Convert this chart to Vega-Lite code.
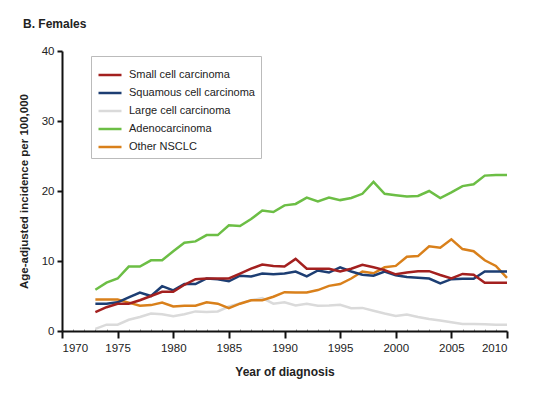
{
  "$schema": "https://vega.github.io/schema/vega-lite/v6.json",
  "width": 445,
  "height": 280,
  "autosize": "none",
  "padding": {"left": 62, "top": 51, "right": 33, "bottom": 62},
  "background": "white",
  "title": {
    "text": "B. Females",
    "anchor": "start",
    "frame": "group",
    "dx": -39,
    "offset": 14,
    "font": "Liberation Sans",
    "fontSize": 12,
    "fontWeight": "bold",
    "color": "#222222"
  },
  "config": {
    "view": {"stroke": null},
    "font": "Liberation Sans"
  },
  "data": {
    "values": [
      {"year":1973,"type":"Large cell carcinoma","value":0.3},
      {"year":1974,"type":"Large cell carcinoma","value":0.9},
      {"year":1975,"type":"Large cell carcinoma","value":0.9},
      {"year":1976,"type":"Large cell carcinoma","value":1.6},
      {"year":1977,"type":"Large cell carcinoma","value":2.0},
      {"year":1978,"type":"Large cell carcinoma","value":2.5},
      {"year":1979,"type":"Large cell carcinoma","value":2.4},
      {"year":1980,"type":"Large cell carcinoma","value":2.1},
      {"year":1981,"type":"Large cell carcinoma","value":2.4},
      {"year":1982,"type":"Large cell carcinoma","value":2.8},
      {"year":1983,"type":"Large cell carcinoma","value":2.7},
      {"year":1984,"type":"Large cell carcinoma","value":2.8},
      {"year":1985,"type":"Large cell carcinoma","value":3.5},
      {"year":1986,"type":"Large cell carcinoma","value":3.95},
      {"year":1987,"type":"Large cell carcinoma","value":4.4},
      {"year":1988,"type":"Large cell carcinoma","value":4.7},
      {"year":1989,"type":"Large cell carcinoma","value":3.9},
      {"year":1990,"type":"Large cell carcinoma","value":4.1},
      {"year":1991,"type":"Large cell carcinoma","value":3.65},
      {"year":1992,"type":"Large cell carcinoma","value":3.9},
      {"year":1993,"type":"Large cell carcinoma","value":3.6},
      {"year":1994,"type":"Large cell carcinoma","value":3.65},
      {"year":1995,"type":"Large cell carcinoma","value":3.75},
      {"year":1996,"type":"Large cell carcinoma","value":3.25},
      {"year":1997,"type":"Large cell carcinoma","value":3.3},
      {"year":1998,"type":"Large cell carcinoma","value":2.9},
      {"year":1999,"type":"Large cell carcinoma","value":2.5},
      {"year":2000,"type":"Large cell carcinoma","value":2.15},
      {"year":2001,"type":"Large cell carcinoma","value":2.35},
      {"year":2002,"type":"Large cell carcinoma","value":2.0},
      {"year":2003,"type":"Large cell carcinoma","value":1.7},
      {"year":2004,"type":"Large cell carcinoma","value":1.5},
      {"year":2005,"type":"Large cell carcinoma","value":1.25},
      {"year":2006,"type":"Large cell carcinoma","value":1.0},
      {"year":2007,"type":"Large cell carcinoma","value":1.0},
      {"year":2008,"type":"Large cell carcinoma","value":0.95},
      {"year":2009,"type":"Large cell carcinoma","value":0.9},
      {"year":2010,"type":"Large cell carcinoma","value":0.9},

      {"year":1973,"type":"Adenocarcinoma","value":5.9},
      {"year":1974,"type":"Adenocarcinoma","value":6.9},
      {"year":1975,"type":"Adenocarcinoma","value":7.5},
      {"year":1976,"type":"Adenocarcinoma","value":9.2},
      {"year":1977,"type":"Adenocarcinoma","value":9.2},
      {"year":1978,"type":"Adenocarcinoma","value":10.1},
      {"year":1979,"type":"Adenocarcinoma","value":10.1},
      {"year":1980,"type":"Adenocarcinoma","value":11.4},
      {"year":1981,"type":"Adenocarcinoma","value":12.6},
      {"year":1982,"type":"Adenocarcinoma","value":12.8},
      {"year":1983,"type":"Adenocarcinoma","value":13.7},
      {"year":1984,"type":"Adenocarcinoma","value":13.7},
      {"year":1985,"type":"Adenocarcinoma","value":15.1},
      {"year":1986,"type":"Adenocarcinoma","value":15.0},
      {"year":1987,"type":"Adenocarcinoma","value":16.0},
      {"year":1988,"type":"Adenocarcinoma","value":17.2},
      {"year":1989,"type":"Adenocarcinoma","value":17.0},
      {"year":1990,"type":"Adenocarcinoma","value":17.95},
      {"year":1991,"type":"Adenocarcinoma","value":18.15},
      {"year":1992,"type":"Adenocarcinoma","value":19.05},
      {"year":1993,"type":"Adenocarcinoma","value":18.5},
      {"year":1994,"type":"Adenocarcinoma","value":19.05},
      {"year":1995,"type":"Adenocarcinoma","value":18.7},
      {"year":1996,"type":"Adenocarcinoma","value":19.0},
      {"year":1997,"type":"Adenocarcinoma","value":19.6},
      {"year":1998,"type":"Adenocarcinoma","value":21.3},
      {"year":1999,"type":"Adenocarcinoma","value":19.6},
      {"year":2000,"type":"Adenocarcinoma","value":19.4},
      {"year":2001,"type":"Adenocarcinoma","value":19.2},
      {"year":2002,"type":"Adenocarcinoma","value":19.3},
      {"year":2003,"type":"Adenocarcinoma","value":20.0},
      {"year":2004,"type":"Adenocarcinoma","value":19.0},
      {"year":2005,"type":"Adenocarcinoma","value":19.8},
      {"year":2006,"type":"Adenocarcinoma","value":20.7},
      {"year":2007,"type":"Adenocarcinoma","value":20.95},
      {"year":2008,"type":"Adenocarcinoma","value":22.2},
      {"year":2009,"type":"Adenocarcinoma","value":22.3},
      {"year":2010,"type":"Adenocarcinoma","value":22.3},

      {"year":1973,"type":"Other NSCLC","value":4.5},
      {"year":1974,"type":"Other NSCLC","value":4.5},
      {"year":1975,"type":"Other NSCLC","value":4.5},
      {"year":1976,"type":"Other NSCLC","value":4.05},
      {"year":1977,"type":"Other NSCLC","value":3.6},
      {"year":1978,"type":"Other NSCLC","value":3.7},
      {"year":1979,"type":"Other NSCLC","value":4.05},
      {"year":1980,"type":"Other NSCLC","value":3.5},
      {"year":1981,"type":"Other NSCLC","value":3.6},
      {"year":1982,"type":"Other NSCLC","value":3.6},
      {"year":1983,"type":"Other NSCLC","value":4.1},
      {"year":1984,"type":"Other NSCLC","value":3.9},
      {"year":1985,"type":"Other NSCLC","value":3.25},
      {"year":1986,"type":"Other NSCLC","value":3.9},
      {"year":1987,"type":"Other NSCLC","value":4.4},
      {"year":1988,"type":"Other NSCLC","value":4.4},
      {"year":1989,"type":"Other NSCLC","value":4.9},
      {"year":1990,"type":"Other NSCLC","value":5.55},
      {"year":1991,"type":"Other NSCLC","value":5.5},
      {"year":1992,"type":"Other NSCLC","value":5.5},
      {"year":1993,"type":"Other NSCLC","value":5.85},
      {"year":1994,"type":"Other NSCLC","value":6.45},
      {"year":1995,"type":"Other NSCLC","value":6.7},
      {"year":1996,"type":"Other NSCLC","value":7.5},
      {"year":1997,"type":"Other NSCLC","value":8.5},
      {"year":1998,"type":"Other NSCLC","value":8.25},
      {"year":1999,"type":"Other NSCLC","value":9.1},
      {"year":2000,"type":"Other NSCLC","value":9.3},
      {"year":2001,"type":"Other NSCLC","value":10.6},
      {"year":2002,"type":"Other NSCLC","value":10.7},
      {"year":2003,"type":"Other NSCLC","value":12.1},
      {"year":2004,"type":"Other NSCLC","value":11.9},
      {"year":2005,"type":"Other NSCLC","value":13.1},
      {"year":2006,"type":"Other NSCLC","value":11.7},
      {"year":2007,"type":"Other NSCLC","value":11.4},
      {"year":2008,"type":"Other NSCLC","value":10.1},
      {"year":2009,"type":"Other NSCLC","value":9.3},
      {"year":2010,"type":"Other NSCLC","value":7.6},

      {"year":1973,"type":"Squamous cell carcinoma","value":3.9},
      {"year":1974,"type":"Squamous cell carcinoma","value":3.9},
      {"year":1975,"type":"Squamous cell carcinoma","value":4.1},
      {"year":1976,"type":"Squamous cell carcinoma","value":4.8},
      {"year":1977,"type":"Squamous cell carcinoma","value":5.5},
      {"year":1978,"type":"Squamous cell carcinoma","value":5.0},
      {"year":1979,"type":"Squamous cell carcinoma","value":6.4},
      {"year":1980,"type":"Squamous cell carcinoma","value":5.8},
      {"year":1981,"type":"Squamous cell carcinoma","value":6.7},
      {"year":1982,"type":"Squamous cell carcinoma","value":6.7},
      {"year":1983,"type":"Squamous cell carcinoma","value":7.5},
      {"year":1984,"type":"Squamous cell carcinoma","value":7.4},
      {"year":1985,"type":"Squamous cell carcinoma","value":7.1},
      {"year":1986,"type":"Squamous cell carcinoma","value":7.9},
      {"year":1987,"type":"Squamous cell carcinoma","value":7.8},
      {"year":1988,"type":"Squamous cell carcinoma","value":8.2},
      {"year":1989,"type":"Squamous cell carcinoma","value":8.1},
      {"year":1990,"type":"Squamous cell carcinoma","value":8.2},
      {"year":1991,"type":"Squamous cell carcinoma","value":8.5},
      {"year":1992,"type":"Squamous cell carcinoma","value":7.8},
      {"year":1993,"type":"Squamous cell carcinoma","value":8.65},
      {"year":1994,"type":"Squamous cell carcinoma","value":8.35},
      {"year":1995,"type":"Squamous cell carcinoma","value":9.1},
      {"year":1996,"type":"Squamous cell carcinoma","value":8.5},
      {"year":1997,"type":"Squamous cell carcinoma","value":8.05},
      {"year":1998,"type":"Squamous cell carcinoma","value":7.9},
      {"year":1999,"type":"Squamous cell carcinoma","value":8.5},
      {"year":2000,"type":"Squamous cell carcinoma","value":7.95},
      {"year":2001,"type":"Squamous cell carcinoma","value":7.7},
      {"year":2002,"type":"Squamous cell carcinoma","value":7.6},
      {"year":2003,"type":"Squamous cell carcinoma","value":7.5},
      {"year":2004,"type":"Squamous cell carcinoma","value":6.8},
      {"year":2005,"type":"Squamous cell carcinoma","value":7.4},
      {"year":2006,"type":"Squamous cell carcinoma","value":7.45},
      {"year":2007,"type":"Squamous cell carcinoma","value":7.45},
      {"year":2008,"type":"Squamous cell carcinoma","value":8.5},
      {"year":2009,"type":"Squamous cell carcinoma","value":8.5},
      {"year":2010,"type":"Squamous cell carcinoma","value":8.5},

      {"year":1973,"type":"Small cell carcinoma","value":2.7},
      {"year":1974,"type":"Small cell carcinoma","value":3.4},
      {"year":1975,"type":"Small cell carcinoma","value":3.9},
      {"year":1976,"type":"Small cell carcinoma","value":3.9},
      {"year":1977,"type":"Small cell carcinoma","value":4.4},
      {"year":1978,"type":"Small cell carcinoma","value":5.0},
      {"year":1979,"type":"Small cell carcinoma","value":5.6},
      {"year":1980,"type":"Small cell carcinoma","value":5.6},
      {"year":1981,"type":"Small cell carcinoma","value":6.6},
      {"year":1982,"type":"Small cell carcinoma","value":7.4},
      {"year":1983,"type":"Small cell carcinoma","value":7.5},
      {"year":1984,"type":"Small cell carcinoma","value":7.5},
      {"year":1985,"type":"Small cell carcinoma","value":7.5},
      {"year":1986,"type":"Small cell carcinoma","value":8.2},
      {"year":1987,"type":"Small cell carcinoma","value":8.9},
      {"year":1988,"type":"Small cell carcinoma","value":9.5},
      {"year":1989,"type":"Small cell carcinoma","value":9.3},
      {"year":1990,"type":"Small cell carcinoma","value":9.2},
      {"year":1991,"type":"Small cell carcinoma","value":10.3},
      {"year":1992,"type":"Small cell carcinoma","value":8.9},
      {"year":1993,"type":"Small cell carcinoma","value":8.9},
      {"year":1994,"type":"Small cell carcinoma","value":8.9},
      {"year":1995,"type":"Small cell carcinoma","value":8.5},
      {"year":1996,"type":"Small cell carcinoma","value":8.9},
      {"year":1997,"type":"Small cell carcinoma","value":9.45},
      {"year":1998,"type":"Small cell carcinoma","value":9.1},
      {"year":1999,"type":"Small cell carcinoma","value":8.7},
      {"year":2000,"type":"Small cell carcinoma","value":8.1},
      {"year":2001,"type":"Small cell carcinoma","value":8.35},
      {"year":2002,"type":"Small cell carcinoma","value":8.55},
      {"year":2003,"type":"Small cell carcinoma","value":8.55},
      {"year":2004,"type":"Small cell carcinoma","value":8.0},
      {"year":2005,"type":"Small cell carcinoma","value":7.5},
      {"year":2006,"type":"Small cell carcinoma","value":8.15},
      {"year":2007,"type":"Small cell carcinoma","value":8.05},
      {"year":2008,"type":"Small cell carcinoma","value":6.9},
      {"year":2009,"type":"Small cell carcinoma","value":6.9},
      {"year":2010,"type":"Small cell carcinoma","value":6.9}
    ]
  },
  "layer": [
    {
      "mark": {"type": "line", "strokeWidth": 2.5, "opacity": 0},
      "encoding": {
        "x": {
          "field": "year", "type": "quantitative",
          "scale": {"domain": [1970, 2010], "nice": false, "zero": false},
          "axis": {
            "orient": "bottom",
            "values": [1971,1972,1973,1974,1976,1977,1978,1979,1981,1982,1983,1984,1986,1987,1988,1989,1991,1992,1993,1994,1996,1997,1998,1999,2001,2002,2003,2004,2006,2007,2008,2009],
            "labels": false,
            "domain": false,
            "grid": false,
            "title": null,
            "tickSize": -2,
            "tickWidth": 1,
            "tickColor": "#999999"
          }
        },
        "y": {"field": "value", "type": "quantitative"},
        "detail": {"field": "type"}
      }
    },
    {
      "mark": {"type": "line", "strokeWidth": 2.5},
      "encoding": {
        "x": {
          "field": "year", "type": "quantitative",
          "scale": {"domain": [1970, 2010], "nice": false, "zero": false},
          "axis": {
            "orient": "bottom",
            "values": [1970,1975,1980,1985,1990,1995,2000,2005,2010],
            "format": "d",
            "title": "Year of diagnosis",
            "grid": false,
            "domainColor": "#111111",
            "domainWidth": 2,
            "tickColor": "#111111",
            "tickWidth": 2,
            "tickSize": 7,
            "labelFontSize": 11.5,
            "labelFontWeight": 500,
            "labelColor": "#222222",
            "labelPadding": 4,
            "titleFontSize": 12,
            "titleFontWeight": "bold",
            "titleColor": "#222222",
            "titlePadding": 13
          }
        },
        "y": {
          "field": "value", "type": "quantitative",
          "scale": {"domain": [0, 40], "nice": false},
          "axis": {
            "values": [0, 10, 20, 30, 40],
            "title": "Age-adjusted incidence per 100,000",
            "grid": false,
            "domainColor": "#111111",
            "domainWidth": 2,
            "tickColor": "#111111",
            "tickWidth": 2,
            "tickSize": 5,
            "labelFontSize": 11.5,
            "labelFontWeight": 500,
            "labelColor": "#222222",
            "labelPadding": 3,
            "titleFontSize": 11.5,
            "titleFontWeight": "bold",
            "titleColor": "#222222",
            "titlePadding": 12
          }
        },
        "color": {
          "field": "type", "type": "nominal",
          "scale": {
            "domain": ["Small cell carcinoma", "Squamous cell carcinoma", "Large cell carcinoma", "Adenocarcinoma", "Other NSCLC"],
            "range": ["#A3201F", "#1D3E73", "#DADADA", "#6CBE45", "#D9801B"]
          },
          "legend": {
            "orient": "none",
            "legendX": 29,
            "legendY": 5,
            "title": null,
            "symbolType": "stroke",
            "symbolSize": 529,
            "symbolStrokeWidth": 2.5,
            "rowPadding": -2.5,
            "labelFontSize": 11,
            "labelColor": "#222222",
            "labelOffset": 6,
            "padding": 6,
            "strokeColor": "#BBBBBB",
            "fillColor": "white"
          }
        }
      }
    }
  ],
  "resolve": {"axis": {"x": "independent"}}
}
